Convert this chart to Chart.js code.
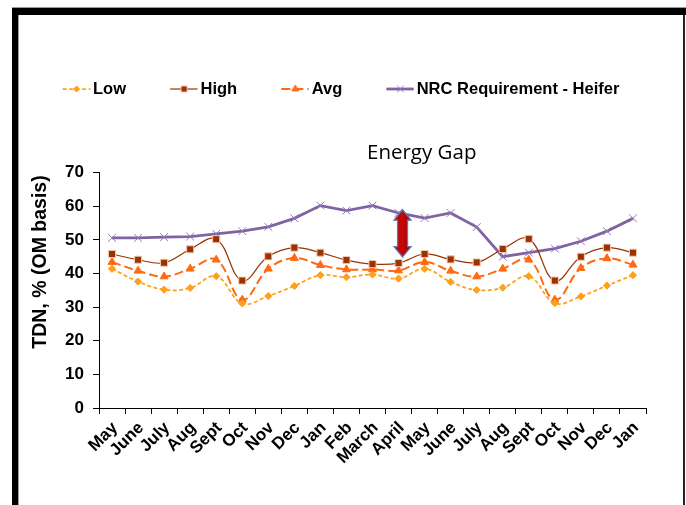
<!DOCTYPE html>
<html>
<head>
<meta charset="utf-8">
<script src="https://cdn.jsdelivr.net/npm/chart.js@4.4.1/dist/chart.umd.min.js"></script>
<style>
  html, body { margin: 0; padding: 0; background: #fff; }
  #wrap { position: relative; width: 686px; height: 505px; overflow: hidden; background: #fff; }
  #c { position: absolute; left: 0; top: 0; }
  .frame { position: absolute; pointer-events: none; }
</style>
</head>
<body>
<div id="wrap">
  <canvas id="c" width="686" height="505"></canvas>
  <div class="frame" style="left:12px;top:7px;width:674px;height:1px;background:#9a9a9a"></div>
  <div class="frame" style="left:12px;top:8px;width:674px;height:7px;background:#000"></div>
  <div class="frame" style="left:12px;top:8px;width:6px;height:497px;background:#000"></div>
  <div class="frame" style="left:18px;top:15px;width:1px;height:490px;background:#9a9a9a"></div>
  <div class="frame" style="left:683px;top:15px;width:2px;height:490px;background:#222"></div>
</div>
<script>
// Months covered by the forage samples (two grazing seasons)
const months = ['May', 'June', 'July', 'Aug', 'Sept', 'Oct', 'Nov', 'Dec', 'Jan', 'Feb', 'March', 'April',
                'May', 'June', 'July', 'Aug', 'Sept', 'Oct', 'Nov', 'Dec', 'Jan'];

// TDN, % (OM basis)
const lowTDN  = [41.4, 37.6, 35.2, 35.7, 39.2, 31.1, 33.3, 36.3, 39.5, 38.9, 39.7, 38.5,
                 41.4, 37.5, 35.1, 35.8, 39.2, 31.2, 33.2, 36.4, 39.5];
const highTDN = [45.8, 44.1, 43.2, 47.2, 50.2, 37.9, 45.1, 47.7, 46.2, 44.0, 42.8, 43.1,
                 45.8, 44.2, 43.3, 47.3, 50.3, 37.9, 45.0, 47.7, 46.2];
const avgTDN  = [43.4, 40.8, 39.1, 41.4, 44.1, 32.2, 41.4, 44.6, 42.5, 41.2, 41.2, 40.9,
                 43.4, 40.8, 39.1, 41.4, 44.1, 32.2, 41.6, 44.5, 42.6];
const nrcHeifer = [50.6, 50.6, 50.8, 51.0, 51.8, 52.6, 53.9, 56.4, 60.2, 58.7, 60.2, 58.0,
                   56.5, 58.0, 53.8, 45.0, 46.2, 47.4, 49.6, 52.6, 56.4];

const yTickLabels = ['0', '10', '20', '30', '40', '50', '60', '70'];

// Gap arrow: month index and the TDN values it spans
const gapMonth = 11;
const gapTop = 59.0;
const gapBottom = 44.9;

const FONT = "'Liberation Sans', Arial, Helvetica, sans-serif";

const styles = {
  low:  { color: '#FFA01A', dash: [4, 2.5], width: 1.75, marker: 'rectRot',  r: 3.6, mFill: '#FFA01A', mEdge: '#FFA01A' },
  high: { color: '#993300', dash: [],       width: 1.2,  marker: 'rect',     r: 5.0, mFill: '#993300', mEdge: '#F2C6B4' },
  avg:  { color: '#FF6A10', dash: [9, 4],   width: 2.0,  marker: 'triangle', r: 4.6, mFill: '#FF6A10', mEdge: '#FF6A10' },
  nrc:  { color: '#8064A2', dash: [],       width: 2.8,  marker: 'crossRot', r: 5.5, mFill: '#8F77B8', mEdge: '#8F77B8' }
};

function drawMarker(g, type, x, y, r, fill, edge) {
  g.save();
  g.fillStyle = fill; g.strokeStyle = edge; g.lineWidth = 1;
  g.beginPath();
  if (type === 'rect') {
    const s = r * Math.SQRT1_2;
    g.rect(x - s, y - s, 2 * s, 2 * s);
    g.fill(); g.stroke();
  } else if (type === 'rectRot') {
    g.moveTo(x - r, y); g.lineTo(x, y - r); g.lineTo(x + r, y); g.lineTo(x, y + r); g.closePath();
    g.fill(); g.stroke();
  } else if (type === 'triangle') {
    let a = 0;
    g.moveTo(x + Math.sin(a) * r, y - Math.cos(a) * r);
    a += 2 * Math.PI / 3; g.lineTo(x + Math.sin(a) * r, y - Math.cos(a) * r);
    a += 2 * Math.PI / 3; g.lineTo(x + Math.sin(a) * r, y - Math.cos(a) * r);
    g.closePath(); g.fill(); g.stroke();
  } else if (type === 'crossRot') {
    const d = r * Math.SQRT1_2;
    g.moveTo(x - d, y - d); g.lineTo(x + d, y + d);
    g.moveTo(x + d, y - d); g.lineTo(x - d, y + d);
    g.stroke();
  }
  g.restore();
}

// Legend swatch: a short line sample with the series marker on it
function swatch(st) {
  const cv = document.createElement('canvas');
  cv.width = 58; cv.height = 16;
  const g = cv.getContext('2d');
  g.strokeStyle = st.color; g.lineWidth = st.width; g.setLineDash(st.dash);
  g.beginPath(); g.moveTo(30, 8); g.lineTo(57.5, 8); g.stroke();
  g.setLineDash([]);
  drawMarker(g, st.marker, 44, 8, st.r * 0.85, st.mFill, st.mEdge);
  return cv;
}
const swatches = [swatch(styles.low), swatch(styles.high), swatch(styles.avg), swatch(styles.nrc)];

function series(label, data, st, tension) {
  return {
    label, data,
    borderColor: st.color, backgroundColor: st.mFill,
    borderWidth: st.width, borderDash: st.dash,
    tension,
    pointStyle: st.marker, pointRadius: st.r,
    pointBackgroundColor: st.mFill, pointBorderColor: st.mEdge, pointBorderWidth: 1,
    fill: false
  };
}

// Title box is shifted to sit over the right part of the plot, plus the
// rotated axis title and the double-headed gap arrow.
const extras = {
  id: 'extras',
  afterLayout(chart) {
    const tb = chart.titleBlock;
    const a = chart.chartArea;
    if (tb && a) {
      const target = a.left + (a.right - a.left) * 0.59;
      const dx = target - (tb.left + tb.right) / 2;
      tb.left += dx; tb.right += dx;
    }
  },
  afterDatasetsDraw(chart) {
    const g = chart.ctx;
    const xs = chart.scales.x, ys = chart.scales.y;
    const x = xs.getPixelForValue(gapMonth) + 4;
    const y1 = ys.getPixelForValue(gapTop);
    const y2 = ys.getPixelForValue(gapBottom);
    const hw = 8.5, sw = 5, hl = 10.5;
    g.save();
    g.beginPath();
    g.moveTo(x, y1);
    g.lineTo(x + hw, y1 + hl);
    g.lineTo(x + sw, y1 + hl);
    g.lineTo(x + sw, y2 - hl);
    g.lineTo(x + hw, y2 - hl);
    g.lineTo(x, y2);
    g.lineTo(x - hw, y2 - hl);
    g.lineTo(x - sw, y2 - hl);
    g.lineTo(x - sw, y1 + hl);
    g.lineTo(x - hw, y1 + hl);
    g.closePath();
    const grad = g.createLinearGradient(x - hw, 0, x + hw, 0);
    grad.addColorStop(0, '#B00000');
    grad.addColorStop(0.5, '#C80808');
    grad.addColorStop(1, '#9A0000');
    g.fillStyle = grad;
    g.fill();
    g.lineWidth = 1.3;
    g.strokeStyle = '#5A7CB0';
    g.stroke();
    g.restore();
  },
  afterDraw(chart) {
    const g = chart.ctx;
    g.save();
    g.translate(41, 262);
    g.rotate(-Math.PI / 2);
    g.font = 'bold 19.5px ' + FONT;
    g.fillStyle = '#000';
    g.textAlign = 'center';
    g.textBaseline = 'middle';
    g.fillText('TDN, % (OM basis)', 0, 0);
    g.restore();
  }
};

new Chart(document.getElementById('c'), {
  type: 'line',
  data: {
    labels: months,
    datasets: [
      series('Low', lowTDN, styles.low, 0.4),
      series('High', highTDN, styles.high, 0.4),
      series('Avg', avgTDN, styles.avg, 0.4),
      series('NRC Requirement - Heifer', nrcHeifer, styles.nrc, 0)
    ]
  },
  options: {
    responsive: false,
    animation: false,
    devicePixelRatio: 1,
    layout: { padding: { left: 18.5, right: 40, top: 60.75, bottom: 0 } },
    plugins: {
      tooltip: { enabled: false },
      legend: {
        display: true,
        position: 'top',
        align: 'start',
        labels: {
          usePointStyle: true,
          pointStyleWidth: 46.25,
          padding: 20,
          color: '#000',
          font: { family: FONT, size: 16.5, weight: 'bold' },
          generateLabels(chart) {
            const items = Chart.defaults.plugins.legend.labels.generateLabels(chart);
            return items.map(it => Object.assign(it, { pointStyle: swatches[it.datasetIndex] }));
          }
        }
      },
      title: {
        display: true,
        text: 'Energy Gap',
        weight: 500,
        color: '#000',
        font: { family: "'Open Sans', 'Liberation Sans', sans-serif", size: 20.5, weight: 'normal' },
        padding: { top: 33.2, bottom: 7.6 }
      }
    },
    scales: {
      x: {
        type: 'category',
        offset: true,
        afterFit(s) { s.height = 97; },
        grid: { display: true, offset: true, drawOnChartArea: false, drawTicks: true, tickLength: 6, color: '#000' },
        border: { display: true, color: '#000', width: 1 },
        ticks: {
          autoSkip: false,
          minRotation: 45, maxRotation: 45,
          padding: 4,
          labelOffset: 3,
          color: '#000',
          font: { family: FONT, size: 17, weight: 'bold' }
        }
      },
      y: {
        min: 0, max: 70,
        afterFit(s) { s.width = 80.5; },
        grid: { display: true, drawOnChartArea: false, drawTicks: true, tickLength: 6, color: '#000' },
        border: { display: true, color: '#000', width: 1 },
        ticks: {
          stepSize: 10,
          padding: 9,
          color: '#000',
          font: { family: FONT, size: 17, weight: 'bold' },
          callback(v, i) { return yTickLabels[i]; }
        }
      }
    }
  },
  plugins: [extras]
});
</script>
</body>
</html>
